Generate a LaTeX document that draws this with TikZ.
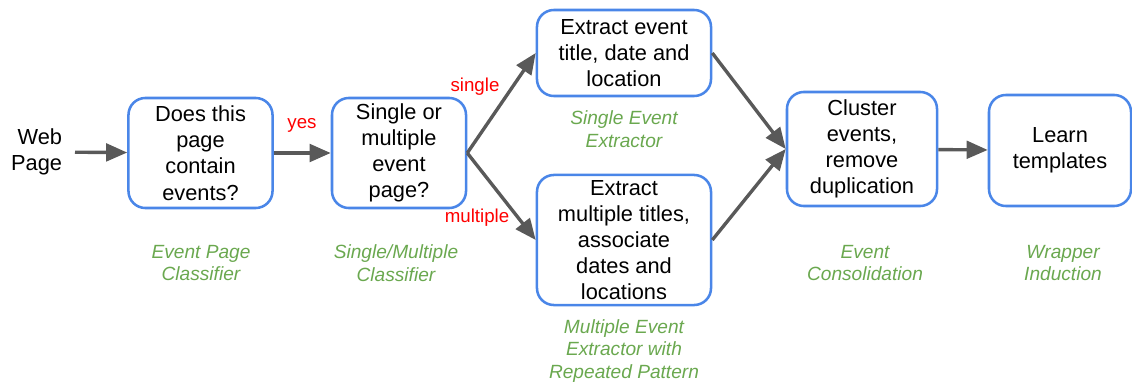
\documentclass[tikz,border=0pt]{standalone}
\usepackage{fontspec}
\setmainfont{Liberation Sans}
\usetikzlibrary{arrows.meta}

\definecolor{boxblue}{HTML}{4A86E8}
\definecolor{capgreen}{HTML}{6AA84F}
\definecolor{arrowgrey}{HTML}{595959}

\begin{document}
\begin{tikzpicture}[x=0.025cm, y=-0.025cm,
        stepbox/.style={draw=boxblue, line width=1.8pt, rounded corners=12pt, align=center, inner sep=0pt, font=\fontsize{15.5}{18.6}\selectfont},
        caption/.style={text=capgreen, align=center, font=\fontsize{13.6}{16.3}\selectfont\itshape},
        choice/.style={text=red, font=\fontsize{13.3}{16}\selectfont},
        flow/.style={arrowgrey, line width=2.4pt, -{Triangle[length=15pt,width=12.5pt]}}]

        \useasboundingbox (0,0) rectangle (1132,387);

        % Input
        \node[align=right, anchor=east, inner sep=9pt, font=\fontsize{15.5}{18.6}\selectfont] (web) at (75,152) {Web\\Page};

        % Processing boxes
        \node[stepbox, minimum width=3.6cm, minimum height=2.75cm] (classify) at (200.5,153) {Does this\\page\\contain\\events?};
        \node[stepbox, minimum width=3.35cm, minimum height=2.75cm] (decide) at (399,153) {Single or\\multiple\\event\\page?};
        \node[stepbox, minimum width=4.35cm, minimum height=2.15cm] (single) at (624,53) {Extract event\\title, date and\\location};
        \node[stepbox, minimum width=4.35cm, minimum height=3.25cm] (multi) at (624,240) {Extract\\multiple titles,\\associate\\dates and\\locations};
        \node[stepbox, minimum width=3.75cm, minimum height=2.85cm] (cluster) at (862,149) {Cluster\\events,\\remove\\duplication};
        \node[stepbox, minimum width=3.55cm, minimum height=2.775cm] (learn) at (1060,150.5) {Learn\\templates};

        % Stage names
        \node[caption] (capclassify) at (201,263) {Event Page\\Classifier};
        \node[caption] (capdecide) at (396,263) {Single/Multiple\\Classifier};
        \node[caption] (capsingle) at (624,129) {Single Event\\Extractor};
        \node[caption] (capmulti) at (624,351) {Multiple Event\\Extractor with\\Repeated Pattern};
        \node[caption] (capcluster) at (865,263) {Event\\Consolidation};
        \node[caption] (caplearn) at (1063,263) {Wrapper\\Induction};

        % Arrows
        \draw[flow] (web) -- (classify);
        \draw[flow] (classify) -- (decide);
        \draw[flow] (decide.east) -- (single.west);
        \draw[flow] (decide.east) -- (multi.west);
        \draw[flow] (single.east) -- (cluster.west);
        \draw[flow] (multi.east) -- (cluster.west);
        \draw[flow] (cluster) -- (learn);

        % Branch labels
        \node[choice] (yes) at (302,125) {yes};
        \node[choice] (one) at (475,87) {single};
        \node[choice] (many) at (477,218) {multiple};

    \end{tikzpicture}
\end{document}
